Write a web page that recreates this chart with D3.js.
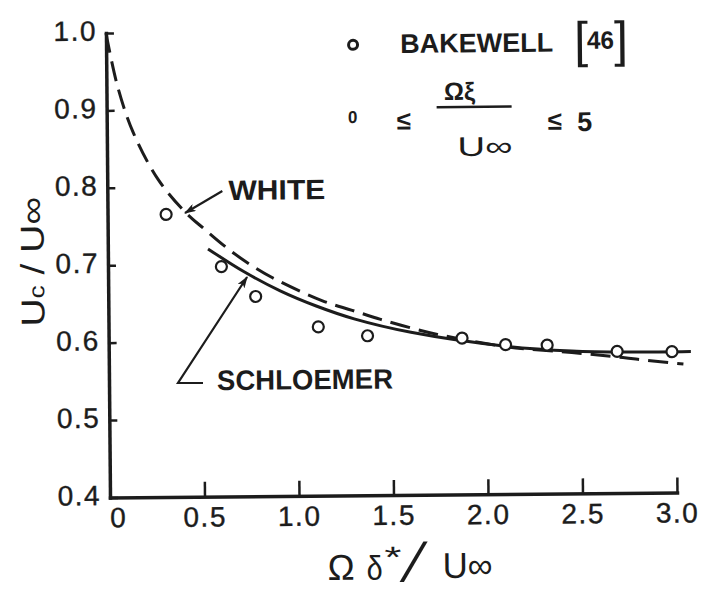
<!DOCTYPE html>
<html>
<head>
<meta charset="utf-8">
<script src="https://cdn.jsdelivr.net/npm/d3@7"></script>
<style>
  html, body { margin: 0; padding: 0; background: #fff; }
  svg { display: block; }
  text { font-family: "Liberation Sans", Arial, sans-serif; fill: #1c1c1c; }
</style>
</head>
<body>
<svg id="chart" width="709" height="597"></svg>
<script>
// Bakewell [46] measurements, 0 <= Ωξ/U∞ <= 5
const bakewellX = [0.31, 0.60, 0.78, 1.11, 1.37, 1.87, 2.10, 2.32, 2.69, 2.98];
const bakewellY = [0.765, 0.697, 0.658, 0.618, 0.606, 0.602, 0.593, 0.592, 0.583, 0.582];

// White's prediction (dashed)
const whiteX = [0.00, 0.06, 0.14, 0.27, 0.41, 0.51, 0.62, 0.73, 0.87, 1.13, 1.29, 1.44, 1.61, 1.74, 2.11, 2.45, 2.72, 2.85, 3.04];
const whiteY = [1.000, 0.930, 0.871, 0.810, 0.768, 0.746, 0.723, 0.703, 0.682, 0.652, 0.639, 0.627, 0.615, 0.607, 0.590, 0.582, 0.575, 0.571, 0.566];

// Schloemer's prediction (solid)
const schloemerX = [0.53, 0.72, 0.91, 1.10, 1.30, 1.60, 2.10, 2.45, 2.75, 3.08];
const schloemerY = [0.720, 0.690, 0.665, 0.645, 0.628, 0.610, 0.591, 0.584, 0.582, 0.582];

const xTickValues = [0, 0.5, 1.0, 1.5, 2.0, 2.5, 3.0];
const xTickLabels = ["0", "0.5", "1.0", "1.5", "2.0", "2.5", "3.0"];
const yTickValues = [0.4, 0.5, 0.6, 0.7, 0.8, 0.9, 1.0];
const yTickLabels = ["0.4", "0.5", "0.6", "0.7", "0.8", "0.9", "1.0"];

const ink = "#1c1c1c";
const svg = d3.select("#chart");
svg.append("rect").attr("width", 709).attr("height", 597).attr("fill", "#fff");

// the sheet sits very slightly turned on the page
const g = svg.append("g").attr("transform", "rotate(-0.5 110 497.5)");

const x = d3.scaleLinear().domain([0, 3]).range([110, 677]);
const y = d3.scaleLinear().domain([0.4, 1.0]).range([497.5, 33]);

const defs = svg.append("defs");
defs.append("marker")
  .attr("id", "head")
  .attr("viewBox", "0 0 12 8")
  .attr("refX", 11).attr("refY", 4)
  .attr("markerWidth", 12).attr("markerHeight", 8)
  .attr("markerUnits", "userSpaceOnUse")
  .attr("orient", "auto")
  .append("path")
  .attr("d", "M0,0 L12,4 L0,8 L3,4 Z")
  .attr("fill", ink);

// x axis
const xAxis = g.append("g")
  .attr("transform", `translate(0,${y(0.4)})`)
  .call(d3.axisBottom(x)
    .tickValues(xTickValues)
    .tickFormat((d, i) => xTickLabels[i])
    .tickSize(-15)
    .tickSizeOuter(0)
    .tickPadding(10));

// y axis
const yAxis = g.append("g")
  .attr("transform", `translate(${x(0)},0)`)
  .call(d3.axisLeft(y)
    .tickValues(yTickValues)
    .tickFormat((d, i) => yTickLabels[i])
    .tickSize(-8)
    .tickSizeOuter(0)
    .tickPadding(9));

[xAxis, yAxis].forEach(ax => {
  ax.select(".domain").attr("stroke", ink).attr("stroke-width", 3.5).attr("stroke-linecap", "square");
  ax.selectAll(".tick line").attr("stroke", ink).attr("stroke-width", 2.5);
  ax.selectAll(".tick text")
    .attr("fill", ink)
    .attr("font-size", 28)
    .attr("letter-spacing", 1.5)
    .attr("stroke", ink).attr("stroke-width", 0.4)
    .attr("font-family", "'Liberation Sans', Arial, sans-serif");
});
yAxis.selectAll(".tick text").attr("dy", "0.25em");
// the zero label is lettered a little right of the corner
xAxis.selectAll(".tick text").filter(d => d === 0).attr("dx", 8);

// curves
const lineGen = d3.line()
  .x(d => x(d[0]))
  .y(d => y(d[1]))
  .curve(d3.curveCatmullRom.alpha(0.5));

g.append("path")
  .datum(whiteX.map((v, i) => [v, whiteY[i]]))
  .attr("d", lineGen)
  .attr("fill", "none")
  .attr("stroke", ink)
  .attr("stroke-width", 3)
  .attr("stroke-dasharray", "20 9");

g.append("path")
  .datum(schloemerX.map((v, i) => [v, schloemerY[i]]))
  .attr("d", lineGen)
  .attr("fill", "none")
  .attr("stroke", ink)
  .attr("stroke-width", 3);

// data points
g.selectAll("circle.pt")
  .data(bakewellX.map((v, i) => [v, bakewellY[i]]))
  .join("circle")
  .attr("class", "pt")
  .attr("cx", d => x(d[0]))
  .attr("cy", d => y(d[1]))
  .attr("r", 5.5)
  .attr("fill", "#fff")
  .attr("stroke", ink)
  .attr("stroke-width", 2.2);

// curve labels with pointers
g.append("text")
  .attr("x", 231).attr("y", 201)
  .attr("font-size", 28).attr("font-weight", "bold")
  .attr("textLength", 97).attr("lengthAdjust", "spacingAndGlyphs")
  .text("WHITE");
g.append("line")
  .attr("x1", 225).attr("y1", 192).attr("x2", 187.5).attr("y2", 213.7)
  .attr("stroke", ink).attr("stroke-width", 2.2)
  .attr("marker-end", "url(#head)");

g.append("text")
  .attr("x", 218).attr("y", 391)
  .attr("font-size", 28).attr("font-weight", "bold")
  .attr("textLength", 176).attr("lengthAdjust", "spacingAndGlyphs")
  .text("SCHLOEMER");
g.append("path")
  .attr("d", "M204,383.8 L179,383.6 L249,278.2")
  .attr("fill", "none")
  .attr("stroke", ink).attr("stroke-width", 2.2)
  .attr("marker-end", "url(#head)");

// legend
g.append("circle")
  .attr("cx", 357).attr("cy", 47).attr("r", 4.5)
  .attr("fill", "#fff").attr("stroke", ink).attr("stroke-width", 3);
g.append("text")
  .attr("x", 404).attr("y", 55.5)
  .attr("font-size", 27).attr("font-weight", "bold")
  .attr("textLength", 153).attr("lengthAdjust", "spacingAndGlyphs")
  .text("BAKEWELL");
g.append("text")
  .attr("x", 578).attr("y", 61)
  .attr("font-size", 50)
  .text("[");
g.append("text")
  .attr("x", 591).attr("y", 53)
  .attr("font-size", 25).attr("font-weight", "bold")
  .attr("textLength", 27).attr("lengthAdjust", "spacingAndGlyphs")
  .text("46");
g.append("text")
  .attr("x", 618).attr("y", 61)
  .attr("font-size", 50)
  .text("]");

g.append("text")
  .attr("x", 356).attr("y", 125)
  .attr("text-anchor", "middle")
  .attr("font-size", 17).attr("font-weight", "bold")
  .text("0");
g.append("text")
  .attr("x", 407).attr("y", 132)
  .attr("text-anchor", "middle")
  .attr("font-size", 26).attr("font-weight", "bold")
  .text("≤");
g.append("text")
  .attr("x", 463).attr("y", 103)
  .attr("text-anchor", "middle")
  .attr("font-size", 25).attr("font-weight", "bold")
  .text("Ωξ");
g.append("line")
  .attr("x1", 440).attr("y1", 110).attr("x2", 515).attr("y2", 110)
  .attr("stroke", ink).attr("stroke-width", 2.5);
g.append("text")
  .attr("x", 488).attr("y", 159)
  .attr("text-anchor", "middle")
  .attr("font-size", 27)
  .attr("textLength", 55).attr("lengthAdjust", "spacingAndGlyphs")
  .text("U∞");
g.append("text")
  .attr("x", 558).attr("y", 133.5)
  .attr("text-anchor", "middle")
  .attr("font-size", 26).attr("font-weight", "bold")
  .text("≤");
g.append("text")
  .attr("x", 588).attr("y", 135)
  .attr("text-anchor", "middle")
  .attr("font-size", 27).attr("font-weight", "bold")
  .text("5");

// x axis title: Ω δ* / U∞
g.append("text").attr("x", 327).attr("y", 582)
  .attr("font-size", 36).attr("textLength", 27).attr("lengthAdjust", "spacingAndGlyphs")
  .text("Ω");
g.append("text").attr("x", 366).attr("y", 582)
  .attr("font-size", 34).attr("textLength", 16).attr("lengthAdjust", "spacingAndGlyphs")
  .text("δ");
g.append("text").attr("x", 384).attr("y", 570)
  .attr("font-size", 30).attr("textLength", 17).attr("lengthAdjust", "spacingAndGlyphs")
  .text("*");
g.append("text")
  .attr("transform", "translate(399,584) skewX(-18)")
  .attr("font-size", 55)
  .text("/");
g.append("text").attr("x", 442).attr("y", 581)
  .attr("font-size", 36).attr("textLength", 50).attr("lengthAdjust", "spacingAndGlyphs")
  .text("U∞");

// y axis title: Uc / U∞
const yTitle = g.append("text")
  .attr("transform", "translate(46,261) rotate(-90)")
  .attr("text-anchor", "middle")
  .attr("font-size", 33)
  .attr("textLength", 130).attr("lengthAdjust", "spacingAndGlyphs");
yTitle.append("tspan").text("U");
yTitle.append("tspan").attr("font-size", 22).text("c");
yTitle.append("tspan").text(" / U∞");
</script>
</body>
</html>
